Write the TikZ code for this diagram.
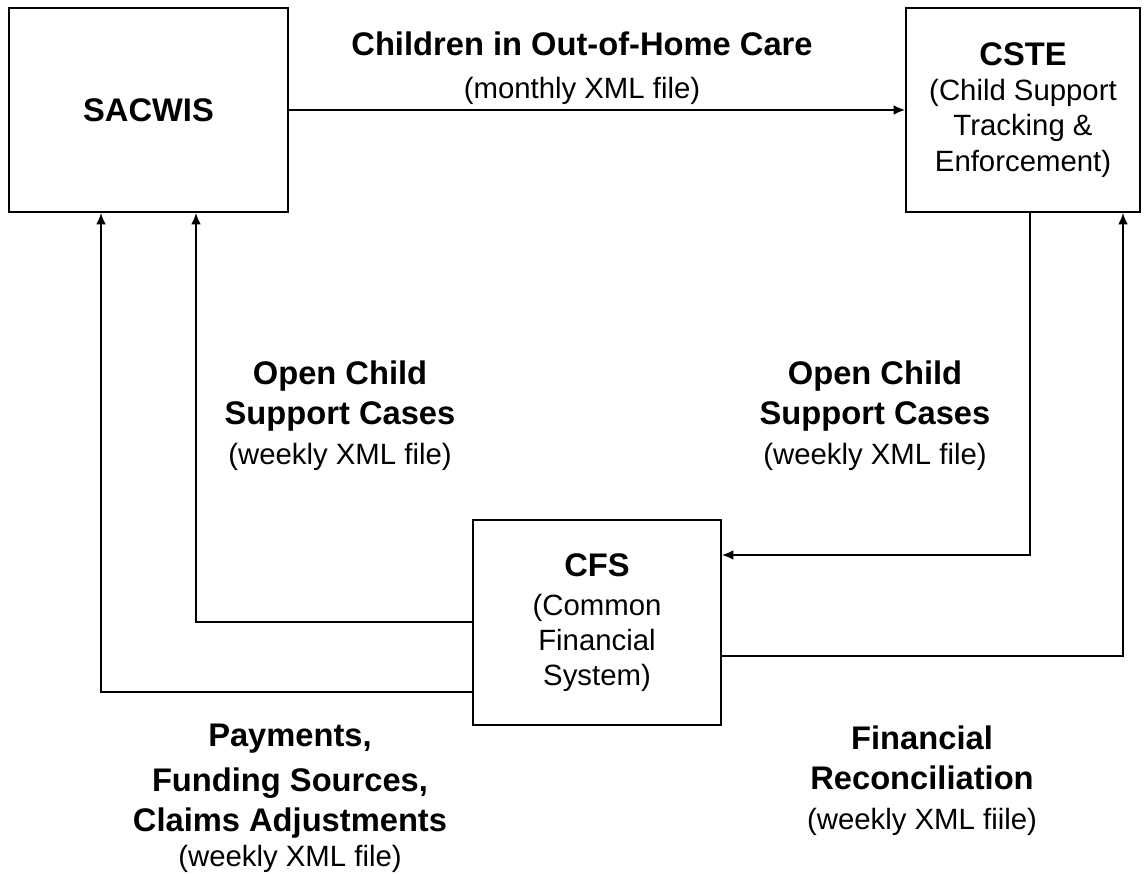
\documentclass[tikz,border=0pt]{standalone}
\usepackage{fontspec}
\setmainfont{Liberation Sans}
\usetikzlibrary{arrows.meta, positioning, calc}
\newcommand{\bigfont}{\bfseries\fontsize{18.6}{22.8}\selectfont}
\newcommand{\smallfont}{\mdseries\fontsize{16.7}{20}\selectfont}

\begin{document}
\begin{tikzpicture}[x=0.02cm, y=-0.02cm,
  sysbox/.style={draw, line width=1.1pt, align=center, inner sep=0pt, font=\smallfont},
  flow/.style={line width=0.8pt, -{Latex[length=6.5pt, width=5.5pt]}},
  lbl/.style={align=center, font=\bigfont, inner sep=0pt}]
\useasboundingbox (0,0) rectangle (1145,874);
% Systems
\node[sysbox, minimum width=5.58cm, minimum height=4.08cm, font=\bigfont] (sacwis) at (148.5,110) {SACWIS};
\node[sysbox, minimum width=4.68cm, minimum height=4.08cm] (cste) at (1023,110)
  {{\bigfont CSTE}\\(Child Support\\Tracking \&\\Enforcement)};
\node[sysbox, minimum width=4.96cm, minimum height=4.1cm] (cfs) at (597,622.5)
  {{\bigfont CFS}\\[2pt](Common\\Financial\\System)};
% Bend points
\coordinate (toCFS) at (1030,555);
\coordinate (toCSTE) at (1123,656);
\coordinate (openL) at (196,622);
\coordinate (payL) at (101,692);
% Arrows
\draw[flow] (sacwis.east) -- (cste.west);
\draw[flow] (cste.south -| toCFS) |- (cfs.east |- toCFS);
\draw[flow] (cfs.east |- toCSTE) -| (cste.south -| toCSTE);
\draw[flow] (cfs.west |- openL) -| (sacwis.south -| openL);
\draw[flow] (cfs.west |- payL) -| (sacwis.south -| payL);
% Labels
\node[lbl] (monthly) at (582,68) {Children in Out-of-Home Care\\[2pt]{\smallfont (monthly XML file)}};
\node[lbl] (openleft) at (340,416) {Open Child\\Support Cases\\{\smallfont (weekly XML file)}};
\node[lbl] (openright) at (875,416) {Open Child\\Support Cases\\{\smallfont (weekly XML file)}};
\node[lbl] (payments) at (290,798) {Payments,\\[3pt]Funding Sources,\\Claims Adjustments\\[-3pt]{\smallfont (weekly XML file)}};
\node[lbl] (recon) at (922,781) {Financial\\Reconciliation\\{\smallfont (weekly XML fiile)}};
\end{tikzpicture}
\end{document}
